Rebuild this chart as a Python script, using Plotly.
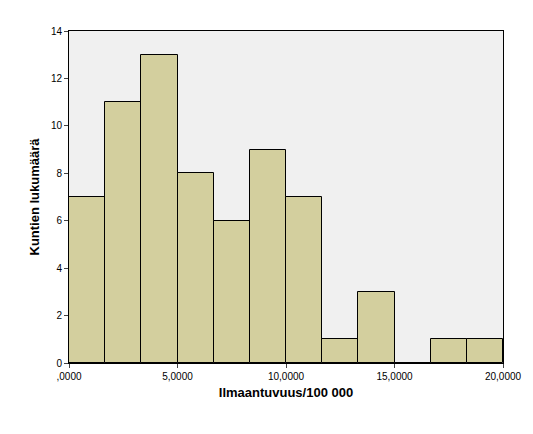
import plotly.graph_objects as go

bin_width = 20/12
counts = [7, 11, 13, 8, 6, 9, 7, 1, 3, 0, 1, 1]
centers = [bin_width*(i+0.5) for i in range(len(counts))]
xtick_vals = [0, 5, 10, 15, 20]
xtick_text = [",0000", "5,0000", "10,0000", "15,0000", "20,0000"]
ytick_vals = list(range(0, 15, 2))

fig = go.Figure(go.Bar(x=centers, y=counts, width=bin_width,
                       marker=dict(color="#d3cf9e", line=dict(color="black", width=1))))
fig.update_layout(
    width=533, height=434, margin=dict(l=61, r=38, t=23, b=79),
    paper_bgcolor="white", plot_bgcolor="#f0f0f0", showlegend=False,
    font=dict(family="Arial, Liberation Sans", color="black"), bargap=0,
)
fig.update_xaxes(range=[0, 20], tickvals=xtick_vals, ticktext=xtick_text, showgrid=False,
                 showline=True, linecolor="black", mirror=True, ticks="outside", ticklen=4,
                 tickfont=dict(size=10), zeroline=False,
                 title=dict(text="<b>Ilmaantuvuus/100 000</b>", font=dict(size=13), standoff=6))
fig.update_yaxes(range=[0, 14], tickvals=ytick_vals, showgrid=False,
                 showline=True, linecolor="black", mirror=True, ticks="outside", ticklen=4,
                 tickfont=dict(size=10), zeroline=False,
                 title=dict(text="<b>Kuntien lukumäärä</b>", font=dict(size=13), standoff=8))
fig.write_html("out.html")
